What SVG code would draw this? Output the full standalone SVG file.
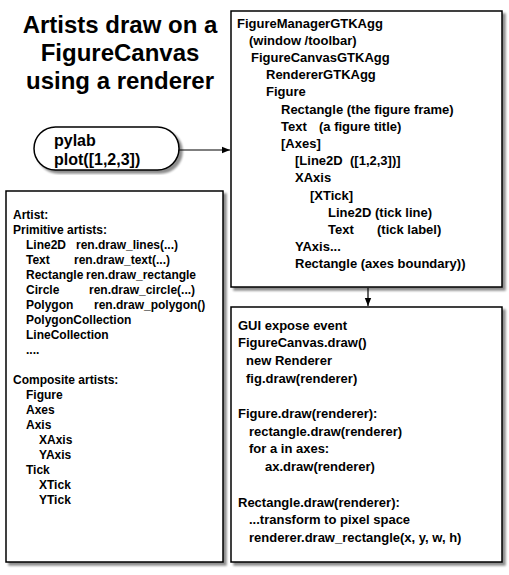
<svg xmlns="http://www.w3.org/2000/svg" width="509" height="575" viewBox="0 0 509 575">
  <defs>
    <filter id="shadow" x="-5%" y="-5%" width="115%" height="115%">
      <feGaussianBlur in="SourceAlpha" stdDeviation="1.2"/>
      <feOffset dx="2.5" dy="2.5" result="o"/>
      <feComponentTransfer><feFuncA type="linear" slope="0.45"/></feComponentTransfer>
      <feMerge><feMergeNode/><feMergeNode in="SourceGraphic"/></feMerge>
    </filter>
    <marker id="arrow" viewBox="0 0 10 10" refX="10" refY="5" markerWidth="8" markerHeight="8" markerUnits="userSpaceOnUse" orient="auto">
      <path d="M0,1 L10,5 L0,9 Z" fill="#000"/>
    </marker>
  </defs>
  <style>
    .box { fill: #fff; stroke: #000; stroke-width: 1.5; filter: url(#shadow); }
    .t { font-family: "Liberation Sans", Arial, sans-serif; font-weight: bold; fill: #000; }
    .title { font-size: 24px; text-anchor: middle; }
    .s12 { font-size: 12px; }
    .s13 { font-size: 13px; }
    .s16 { font-size: 16px; }
    .conn { stroke: #000; stroke-width: 1.2; fill: none; marker-end: url(#arrow); }
  </style>

  <g id="title">
    <text class="t title" x="120" y="33">Artists draw on a</text>
    <text class="t title" x="120" y="61">FigureCanvas</text>
    <text class="t title" x="120" y="89">using a renderer</text>
  </g>

  <g id="connectors">
    <line class="conn" x1="179" y1="150" x2="230" y2="150"/>
    <line class="conn" x1="368" y1="288" x2="368" y2="306"/>
  </g>

  <g id="pylab">
    <rect class="box" x="34" y="127" width="145" height="43" rx="21.5" ry="21.5"/>
    <text class="t s16" x="54" y="146">pylab</text>
    <text class="t s16" x="54" y="165">plot([1,2,3])</text>
  </g>

  <g id="hierarchy">
    <rect class="box" x="231" y="11" width="271" height="276"/>
    <text class="t s13" x="237" y="27.5">FigureManagerGTKAgg</text>
    <text class="t s13" x="249" y="44.7">(window /toolbar)</text>
    <text class="t s13" x="251" y="61.9">FigureCanvasGTKAgg</text>
    <text class="t s13" x="266" y="79.1">RendererGTKAgg</text>
    <text class="t s13" x="266" y="96.3">Figure</text>
    <text class="t s13" x="281" y="113.5">Rectangle (the figure frame)</text>
    <text class="t s13" x="281" y="130.7">Text</text>
    <text class="t s13" x="319" y="130.7">(a figure title)</text>
    <text class="t s13" x="281" y="147.9">[Axes]</text>
    <text class="t s13" x="295" y="165.1">[Line2D</text>
    <text class="t s13" x="350" y="165.1">([1,2,3])]</text>
    <text class="t s13" x="295" y="182.3">XAxis</text>
    <text class="t s13" x="310" y="199.5">[XTick]</text>
    <text class="t s13" x="328" y="216.7">Line2D</text>
    <text class="t s13" x="375" y="216.7">(tick line)</text>
    <text class="t s13" x="328" y="233.9">Text</text>
    <text class="t s13" x="377" y="233.9">(tick label)</text>
    <text class="t s13" x="295" y="251.1">YAxis...</text>
    <text class="t s13" x="295" y="268.3">Rectangle (axes boundary))</text>
  </g>

  <g id="artists">
    <rect class="box" x="6" y="191" width="217" height="371"/>
    <text class="t s12" x="13" y="218.5">Artist:</text>
    <text class="t s12" x="13" y="233.5">Primitive artists:</text>
    <text class="t s12" x="26" y="248.5">Line2D</text>
    <text class="t s12" x="76" y="248.5">ren.draw_lines(...)</text>
    <text class="t s12" x="26" y="263.5">Text</text>
    <text class="t s12" x="74" y="263.5">ren.draw_text(...)</text>
    <text class="t s12" x="26" y="278.5">Rectangle</text>
    <text class="t s12" x="86" y="278.5">ren.draw_rectangle</text>
    <text class="t s12" x="26" y="293.5">Circle</text>
    <text class="t s12" x="89" y="293.5">ren.draw_circle(...)</text>
    <text class="t s12" x="26" y="308.5">Polygon</text>
    <text class="t s12" x="94" y="308.5">ren.draw_polygon()</text>
    <text class="t s12" x="26" y="323.5">PolygonCollection</text>
    <text class="t s12" x="26" y="338.5">LineCollection</text>
    <text class="t s12" x="26" y="353.5">....</text>
    <text class="t s12" x="13" y="383.5">Composite artists:</text>
    <text class="t s12" x="26" y="398.5">Figure</text>
    <text class="t s12" x="26" y="413.5">Axes</text>
    <text class="t s12" x="26" y="428.5">Axis</text>
    <text class="t s12" x="39" y="443.5">XAxis</text>
    <text class="t s12" x="39" y="458.5">YAxis</text>
    <text class="t s12" x="26" y="473.5">Tick</text>
    <text class="t s12" x="39" y="488.5">XTick</text>
    <text class="t s12" x="39" y="503.5">YTick</text>
  </g>

  <g id="drawing">
    <rect class="box" x="231" y="307" width="271" height="255"/>
    <text class="t s13" x="238" y="329.5">GUI expose event</text>
    <text class="t s13" x="238" y="347.2">FigureCanvas.draw()</text>
    <text class="t s13" x="246" y="364.9">new Renderer</text>
    <text class="t s13" x="246" y="382.6">fig.draw(renderer)</text>
    <text class="t s13" x="238" y="418">Figure.draw(renderer):</text>
    <text class="t s13" x="249" y="435.7">rectangle.draw(renderer)</text>
    <text class="t s13" x="249" y="453.4">for a in axes:</text>
    <text class="t s13" x="265" y="471.1">ax.draw(renderer)</text>
    <text class="t s13" x="238" y="506.5">Rectangle.draw(renderer):</text>
    <text class="t s13" x="249" y="524.2">...transform to pixel space</text>
    <text class="t s13" x="249" y="541.9">renderer.draw_rectangle(x, y, w, h)</text>
  </g>
</svg>
